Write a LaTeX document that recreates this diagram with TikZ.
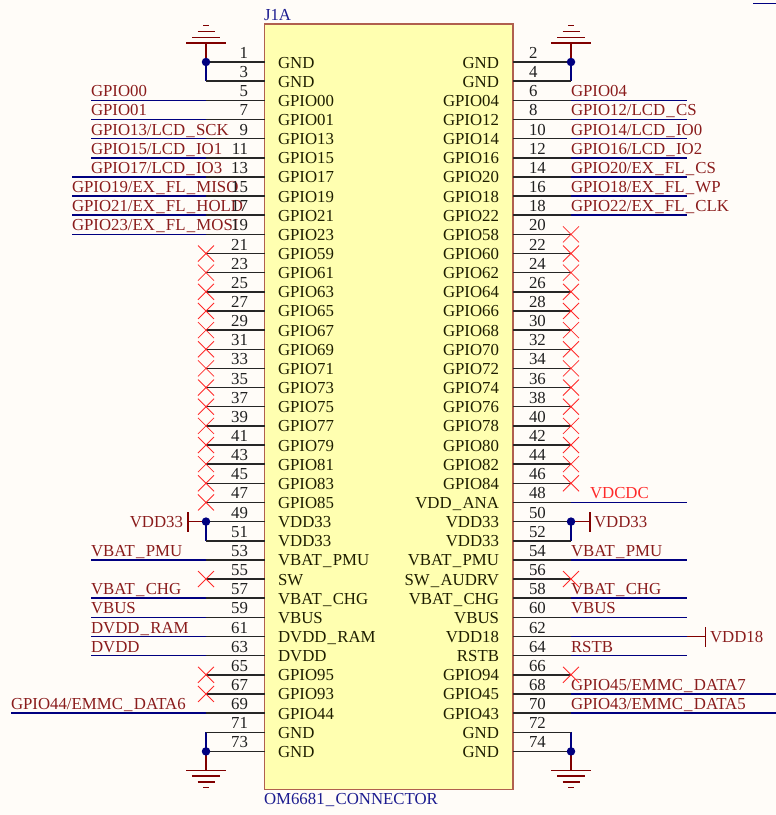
\documentclass[tikz,border=0pt]{standalone}
\usepackage{fontspec}
\setmainfont{Liberation Serif}
\definecolor{bgc}{HTML}{FFFCF8}
\definecolor{boxfill}{HTML}{FFFFB0}
\definecolor{boxline}{HTML}{B0604F}
\definecolor{netblue}{HTML}{000080}
\definecolor{portred}{HTML}{800000}
\definecolor{labred}{HTML}{8A1C1C}
\definecolor{nameblk}{HTML}{1E1E00}
\definecolor{numblk}{HTML}{202020}
\definecolor{refblue}{HTML}{1C1C90}
\definecolor{ncred}{HTML}{FF2A2A}
\newcommand{\rz}[1]{(62+19.15*#1)}
\newcommand{\ry}[1]{{\rz{#1}}}
\newcommand{\us}{\kern1.2pt\_\kern1.3pt}
\tikzset{
  txt/.style={inner sep=0pt,outer sep=0pt,font=\fontsize{16.8}{18}\selectfont},
  pinname/.style={txt,text=nameblk},
  pinnum/.style={txt,text=numblk},
  netlab/.style={txt,text=labred,anchor=base west},
  wire/.style={line width=1.5pt,netblue},
  pinline/.style={line width=1.5pt,black!85!white},
  port/.style={line width=1.5pt,portred},
  ncmark/.style={line width=0.8pt,ncred},
  junction/.style={circle,fill=netblue,inner sep=0pt,minimum size=8.5pt},
}
\newcommand{\netL}[3]{% row, x start, text
  \coordinate (nls#1) at (#2,\ry{#1});
  \node[netlab] (nll#1) at ([yshift=3.5pt]nls#1) {#3};
  \draw[wire] (nls#1) -- (LE#1);
}
\newcommand{\netLx}[4]{% row, line start, label x, text
  \coordinate (nls#1) at (#2,\ry{#1});
  \coordinate (nlt#1) at (#3,\ry{#1});
  \node[netlab] (nll#1) at ([yshift=3.5pt]nlt#1) {#4};
  \draw[wire] (nls#1) -- (LE#1);
}
\newcommand{\netR}[3]{% row, x end, text
  \coordinate (nre#1) at (#2,\ry{#1});
  \node[netlab] (nrl#1) at ([yshift=3.5pt]RE#1) {#3};
  \draw[wire] (RE#1) -- (nre#1);
}
\begin{document}
\begin{tikzpicture}[x=1pt,y=-1pt]
\useasboundingbox (0,0) rectangle (776,815);
\fill[bgc] (0,0) rectangle (776,815);
\coordinate (tlbar) at (753,3.5);
\coordinate (trbar) at (776,3.5);
\draw[wire] (tlbar) -- (trbar);
% connector body
\coordinate (bodyA) at (264.5,24);
\coordinate (bodyB) at (513,789.5);
\draw[boxline,fill=boxfill,line width=1.1pt] (bodyA) rectangle (bodyB);
\node[txt,text=refblue,anchor=base west] (ref) at (264,20) {J1A};
\node[txt,text=refblue,anchor=base west] (val) at (264,804.5) {OM6681\us CONNECTOR};
% pin coordinates
\foreach \i in {0,...,36}{
  \coordinate (L\i) at (264.5,\ry{\i});
  \coordinate (LE\i) at (206,\ry{\i});
  \coordinate (R\i) at (513,\ry{\i});
  \coordinate (RE\i) at (571,\ry{\i});
}
% nets, left
\netL{2}{91}{GPIO00}
\netL{3}{91}{GPIO01}
\netL{4}{91}{GPIO13/LCD\us SCK}
\netL{5}{91}{GPIO15/LCD\us IO1}
\netLx{6}{72}{91}{GPIO17/LCD\us IO3}
\netL{7}{72}{GPIO19/EX\us FL\us MISO}
\netL{8}{72}{GPIO21/EX\us FL\us HOLD}
\netL{9}{72}{GPIO23/EX\us FL\us MOSI}
\netL{26}{91}{VBAT\us PMU}
\netL{28}{91}{VBAT\us CHG}
\netL{29}{91}{VBUS}
\netL{30}{91}{DVDD\us RAM}
\netL{31}{91}{DVDD}
\netL{34}{11}{GPIO44/EMMC\us DATA6}
% nets, right
\netR{2}{687}{GPIO04}
\netR{3}{687}{GPIO12/LCD\us CS}
\netR{4}{687}{GPIO14/LCD\us IO0}
\netR{5}{687}{GPIO16/LCD\us IO2}
\netR{6}{687}{GPIO20/EX\us FL\us CS}
\netR{7}{687}{GPIO18/EX\us FL\us WP}
\netR{8}{687}{GPIO22/EX\us FL\us CLK}
\netR{26}{687}{VBAT\us PMU}
\netR{28}{687}{VBAT\us CHG}
\netR{29}{687}{VBUS}
\netR{31}{687}{RSTB}
\netR{33}{776}{GPIO45/EMMC\us DATA7}
\netR{34}{776}{GPIO43/EMMC\us DATA5}
% VDCDC
\coordinate (vdcdcE) at (687,\ry{23});
\draw[wire] (RE23) -- (vdcdcE);
\node[netlab,text=ncred] (vdcdc) at (590,{\rz{23}-3.5}) {VDCDC};
% VDD18
\coordinate (vdd18A) at (687,\ry{30});
\coordinate (vdd18B) at (705.5,\ry{30});
\draw[wire] (RE30) -- (vdd18A);
\draw[port] (vdd18A) -- (vdd18B) ([yshift=-10pt]vdd18B) -- ([yshift=10pt]vdd18B);
\node[netlab] (vdd18) at (710,{\rz{30}+6}) {VDD18};
% VDD33 left
\coordinate (vl) at (188,\ry{24});
\draw[wire] (LE24) -- (LE25);
\draw[port] (LE24) -- (vl) ([yshift=-10pt]vl) -- ([yshift=10pt]vl);
\node[txt,text=labred,anchor=base east] (vddl) at (183,{\rz{24}+6}) {VDD33};
% VDD33 right
\coordinate (vr) at (590,\ry{24});
\draw[wire] (RE24) -- (RE25);
\draw[port] (RE24) -- (vr) ([yshift=-10pt]vr) -- ([yshift=10pt]vr);
\node[netlab] (vddr) at (594,{\rz{24}+6}) {VDD33};
% GND bundles
\draw[wire] (LE0) -- (LE1) (RE0) -- (RE1) (LE35) -- (LE36) (RE35) -- (RE36);
\foreach \p/\s in {LE0/1,RE0/1,LE36/-1,RE36/-1}{
  \coordinate (g) at (\p);
  \draw[port] (g) -- ([yshift=\s*19pt]g);
  \draw[port] ([shift={(-20pt,\s*19pt)}]g) -- ([shift={(20pt,\s*19pt)}]g);
  \draw[port] ([shift={(-14pt,\s*24.7pt)}]g) -- ([shift={(14pt,\s*24.7pt)}]g);
  \draw[port] ([shift={(-8.5pt,\s*30.5pt)}]g) -- ([shift={(8.5pt,\s*30.5pt)}]g);
  \draw[port] ([shift={(-3pt,\s*36.3pt)}]g) -- ([shift={(3pt,\s*36.3pt)}]g);
}
% pins
\foreach \i/\nm in {0/GND,1/GND,2/GPIO00,3/GPIO01,4/GPIO13,5/GPIO15,6/GPIO17,7/GPIO19,8/GPIO21,9/GPIO23,10/GPIO59,11/GPIO61,12/GPIO63,13/GPIO65,14/GPIO67,15/GPIO69,16/GPIO71,17/GPIO73,18/GPIO75,19/GPIO77,20/GPIO79,21/GPIO81,22/GPIO83,23/GPIO85,24/VDD33,25/VDD33,26/VBAT\us PMU,27/SW,28/VBAT\us CHG,29/VBUS,30/DVDD\us RAM,31/DVDD,32/GPIO95,33/GPIO93,34/GPIO44,35/GND,36/GND}{
  \pgfmathtruncatemacro{\n}{2*\i+1}
  \draw[pinline] (LE\i) -- (L\i);
  \node[pinnum,anchor=base east] (nl\i) at ([shift={(-16.5pt,3.5pt)}]L\i) {\n};
  \node[pinname,anchor=base west] (tl\i) at ([shift={(13.5pt,-6pt)}]L\i) {\nm};
}
\foreach \i/\nm in {0/GND,1/GND,2/GPIO04,3/GPIO12,4/GPIO14,5/GPIO16,6/GPIO20,7/GPIO18,8/GPIO22,9/GPIO58,10/GPIO60,11/GPIO62,12/GPIO64,13/GPIO66,14/GPIO68,15/GPIO70,16/GPIO72,17/GPIO74,18/GPIO76,19/GPIO78,20/GPIO80,21/GPIO82,22/GPIO84,23/VDD\us ANA,24/VDD33,25/VDD33,26/VBAT\us PMU,27/SW\us AUDRV,28/VBAT\us CHG,29/VBUS,30/VDD18,31/RSTB,32/GPIO94,33/GPIO45,34/GPIO43,35/GND,36/GND}{
  \pgfmathtruncatemacro{\n}{2*\i+2}
  \draw[pinline] (R\i) -- (RE\i);
  \node[pinnum,anchor=base west] (nr\i) at ([shift={(16pt,3.5pt)}]R\i) {\n};
  \node[pinname,anchor=base east] (tr\i) at ([shift={(-14pt,-6pt)}]R\i) {\nm};
}
% no-connect marks
\foreach \i in {10,...,23,27,32,33}{
  \draw[ncmark] ([shift={(-8pt,-8pt)}]LE\i) -- ([shift={(8pt,8pt)}]LE\i) ([shift={(-8pt,8pt)}]LE\i) -- ([shift={(8pt,-8pt)}]LE\i);
}
\foreach \i in {9,...,22,27,32}{
  \draw[ncmark] ([shift={(-8pt,-8pt)}]RE\i) -- ([shift={(8pt,8pt)}]RE\i) ([shift={(-8pt,8pt)}]RE\i) -- ([shift={(8pt,-8pt)}]RE\i);
}
% junctions
\foreach \p in {LE0,RE0,LE24,RE24,LE36,RE36}{
  \node[junction] (j\p) at (\p) {};
}
\end{tikzpicture}
\end{document}
